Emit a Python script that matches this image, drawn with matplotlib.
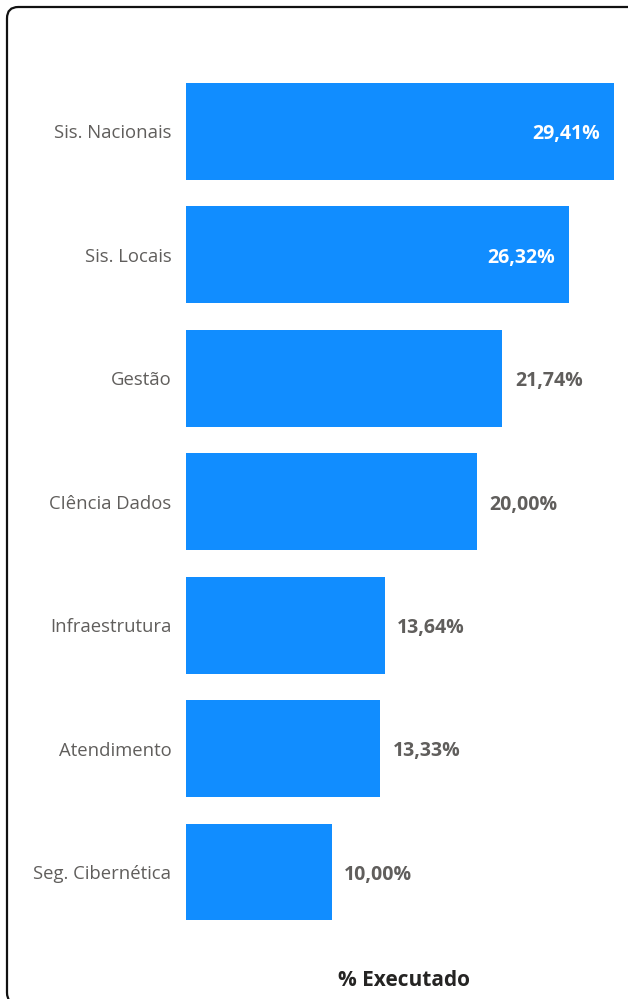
import matplotlib
matplotlib.use("Agg")
import matplotlib.pyplot as plt
from matplotlib.patches import FancyBboxPatch

categories = ["Sis. Nacionais", "Sis. Locais", "Gestão", "CIência Dados",
              "Infraestrutura", "Atendimento", "Seg. Cibernética"]
values = [29.41, 26.32, 21.74, 20.00, 13.64, 13.33, 10.00]
value_labels = ["29,41%", "26,32%", "21,74%", "20,00%", "13,64%", "13,33%", "10,00%"]
title = "% Executado"

W, H = 628, 999
BLUE = "#118DFF"
GRAY = "#605E5C"

plt.rcParams['font.family'] = ['Open Sans', 'DejaVu Sans']

fig = plt.figure(figsize=(W / 100, H / 100), dpi=100)

# rounded card border (partly cut off at right and bottom)
x0, y0 = 7 / W, 1 - 1004 / H
card = FancyBboxPatch((x0, y0), (640 - 7) / W, (1004 - 7) / H,
                      boxstyle="round,pad=0,rounding_size=0.018",
                      transform=fig.transFigure, fill=False,
                      edgecolor="#111111", linewidth=1.6,
                      mutation_aspect=W / H)
fig.patches.append(card)

ax = fig.add_axes([186 / W, 1 - 933.75 / H, 428 / W, (933.75 - 69.75) / H])
ypos = list(range(len(categories)))
ax.barh(ypos, values, height=0.785, color=BLUE)
ax.set_xlim(0, max(values))
ax.set_ylim(len(categories) - 0.5, -0.5)
ax.set_yticks(ypos)
ax.set_yticklabels(categories, fontsize=13.3, color=GRAY)
ax.tick_params(axis="y", length=0, pad=10.5)
ax.set_xticks([])
for s in ax.spines.values():
    s.set_visible(False)

for y, v, lab in zip(ypos, values, value_labels):
    if v > 25:
        ax.annotate(lab, (v, y), xytext=(-10, -2), textcoords="offset points",
                    ha="right", va="center", fontsize=14, fontweight="bold",
                    color="white")
    else:
        ax.annotate(lab, (v, y), xytext=(9, -2), textcoords="offset points",
                    ha="left", va="center", fontsize=14, fontweight="bold",
                    color=GRAY)

fig.text(404 / W, 1 - 981 / H, title, ha="center", va="center",
         fontsize=15, fontweight="bold", color="#252423")

fig.savefig("out.png", dpi=100)
